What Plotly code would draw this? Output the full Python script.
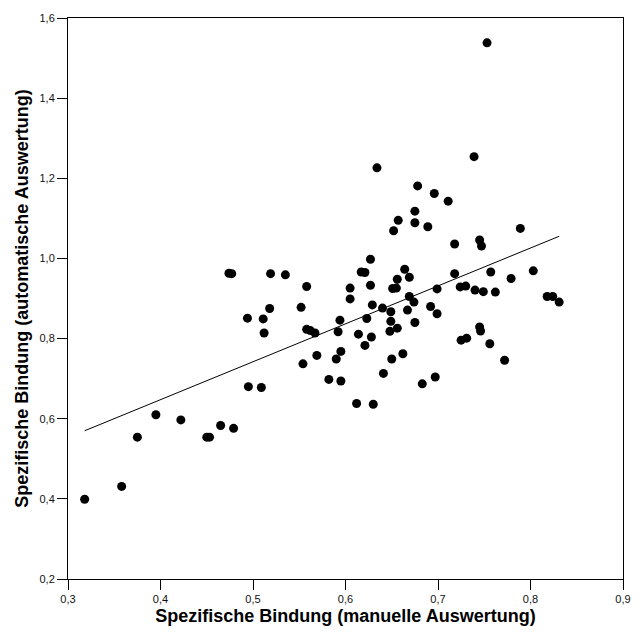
import numpy as np
import plotly.graph_objects as go

# Specific binding: manual evaluation (x) vs. automatic evaluation (y)
manuell = [
    0.318, 0.358, 0.375, 0.395, 0.422, 0.450, 0.453, 0.465, 0.479, 0.474,
    0.477, 0.494, 0.495, 0.509, 0.511, 0.512, 0.518, 0.519, 0.535, 0.552,
    0.554, 0.558, 0.558, 0.562, 0.567, 0.569, 0.582, 0.590, 0.592, 0.594,
    0.595, 0.595, 0.605, 0.605, 0.612, 0.614, 0.617, 0.621, 0.621, 0.623,
    0.627, 0.627, 0.628, 0.629, 0.630, 0.634, 0.640, 0.641, 0.648, 0.649,
    0.649, 0.650, 0.652, 0.651, 0.655, 0.656, 0.656, 0.657, 0.662, 0.664,
    0.667, 0.669, 0.669, 0.674, 0.675, 0.675, 0.675, 0.678, 0.683, 0.689,
    0.692, 0.696, 0.697, 0.699, 0.699, 0.711, 0.718, 0.718, 0.724, 0.730,
    0.725, 0.731, 0.739, 0.740, 0.745, 0.747, 0.745, 0.746, 0.749, 0.753,
    0.756, 0.757, 0.762, 0.772, 0.779, 0.789, 0.803, 0.818, 0.824, 0.831,
]
automatisch = [
    0.399, 0.431, 0.554, 0.610, 0.597, 0.554, 0.554, 0.583, 0.576, 0.963,
    0.962, 0.851, 0.680, 0.678, 0.849, 0.814, 0.875, 0.962, 0.959, 0.878,
    0.737, 0.930, 0.823, 0.820, 0.814, 0.758, 0.698, 0.749, 0.817, 0.846,
    0.694, 0.768, 0.926, 0.899, 0.638, 0.811, 0.966, 0.965, 0.783, 0.850,
    0.998, 0.933, 0.804, 0.884, 0.636, 1.226, 0.876, 0.713, 0.818, 0.843,
    0.867, 0.749, 1.069, 0.925, 0.926, 0.826, 0.948, 1.095, 0.762, 0.973,
    0.871, 0.953, 0.905, 0.891, 0.840, 1.118, 1.089, 1.181, 0.687, 1.079,
    0.880, 1.162, 0.704, 0.924, 0.862, 1.143, 1.036, 0.962, 0.929, 0.931,
    0.796, 0.801, 1.254, 0.921, 1.046, 1.031, 0.829, 0.819, 0.917, 1.538,
    0.787, 0.966, 0.916, 0.746, 0.950, 1.075, 0.969, 0.905, 0.905, 0.891,
]

x_ticks = [0.3, 0.4, 0.5, 0.6, 0.7, 0.8, 0.9]
y_ticks = [0.2, 0.4, 0.6, 0.8, 1.0, 1.2, 1.4, 1.6]

x = np.array(manuell)
y = np.array(automatisch)

# Least-squares regression line across the observed x range
slope, intercept = np.polyfit(x, y, 1)
fit_x = np.array([x.min(), x.max()])
fit_y = slope * fit_x + intercept

font_family = "Liberation Sans, Arial, sans-serif"

fig = go.Figure()
fig.add_trace(go.Scatter(
    x=fit_x, y=fit_y, mode="lines",
    line=dict(color="black", width=1),
    hoverinfo="skip", showlegend=False,
))
fig.add_trace(go.Scatter(
    x=x, y=y, mode="markers",
    marker=dict(color="black", size=9, line=dict(width=0)),
    showlegend=False,
))

axis_common = dict(
    showgrid=False, zeroline=False,
    showline=True, linecolor="black", linewidth=1, mirror=True,
    ticks="outside", ticklen=10, tickwidth=1, tickcolor="black",
    tickfont=dict(family=font_family, size=11, color="#111111"),
    tickformat=".1f",
)

fig.update_layout(
    width=643, height=635,
    margin=dict(l=68, r=12, t=17, b=55),
    paper_bgcolor="white", plot_bgcolor="white",
    separators=", ",
    font=dict(family=font_family, color="black"),
    xaxis=dict(
        **axis_common,
        range=[0.3, 0.9], tickvals=x_ticks,
        title=dict(text="<b>Spezifische Bindung (manuelle Auswertung)</b>",
                   font=dict(family=font_family, size=18, color="black"),
                   standoff=5),
    ),
    yaxis=dict(
        **axis_common,
        range=[0.2, 1.6], tickvals=y_ticks,
        title=dict(text="<b>Spezifische Bindung (automatische Auswertung)</b>",
                   font=dict(family=font_family, size=18, color="black"),
                   standoff=6),
    ),
)

fig.write_html("out.html")
